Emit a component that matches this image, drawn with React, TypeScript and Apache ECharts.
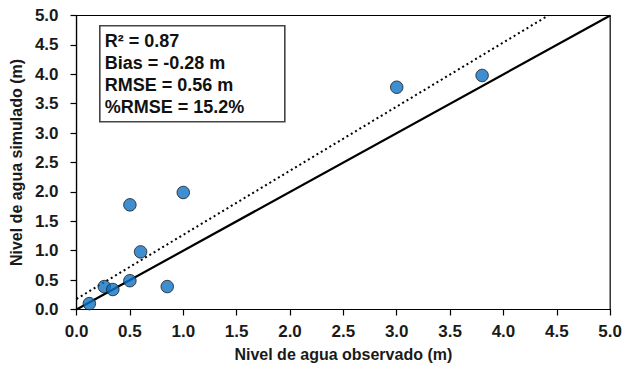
import React, { useEffect, useRef } from "react";
import * as echarts from "echarts";

const observed = [0.12, 0.26, 0.34, 0.5, 0.5, 0.6, 0.85, 1.0, 3.0, 3.8];
const simulated = [0.1, 0.39, 0.34, 0.49, 1.78, 0.98, 0.39, 1.99, 3.78, 3.98];
const oneToOneX = [0, 5];
const oneToOneY = [0, 5];
const fitX = [0, 4.42];
const fitY = [0.18, 5.0];
const statsLines = ["R² = 0.87", "Bias = -0.28 m", "RMSE = 0.56 m", "%RMSE = 15.2%"];

export default function App() {
  const ref = useRef<HTMLDivElement>(null);
  useEffect(() => {
    if (!ref.current) return;
    const chart = echarts.init(ref.current, undefined, { renderer: "svg" });
    const font = "Liberation Sans, Arial, sans-serif";
    const labelCommon = {
      color: "#1a1a1a",
      fontFamily: font,
      fontWeight: "bold",
      fontSize: 17,
      formatter: (v: number) => v.toFixed(1),
    };
    const axisCommon = {
      min: 0,
      max: 5,
      interval: 0.5,
      splitLine: { show: false },
      axisLine: { show: true, onZero: false, lineStyle: { color: "#000", width: 1.2 } },
      axisTick: { show: true, inside: false, length: 6, lineStyle: { color: "#000", width: 1.2 } },
      nameLocation: "middle",
      nameTextStyle: { color: "#1a1a1a", fontFamily: font, fontWeight: "bold", fontSize: 16 },
    };
    chart.setOption({
      animation: false,
      backgroundColor: "#fff",
      grid: {
        left: 76.5,
        right: 14,
        top: 15.5,
        bottom: 61.5,
        show: true,
        borderColor: "#000",
        borderWidth: 1.2,
        backgroundColor: "transparent",
      },
      xAxis: {
        ...axisCommon,
        type: "value",
        name: "Nivel de agua observado (m)",
        nameGap: 37,
        axisLabel: { ...labelCommon, margin: 13 },
      },
      yAxis: {
        ...axisCommon,
        type: "value",
        name: "Nivel de agua simulado (m)",
        nameGap: 51,
        axisLabel: { ...labelCommon, margin: 18 },
      },
      series: [
        {
          type: "line",
          data: oneToOneX.map((x, i) => [x, oneToOneY[i]]),
          showSymbol: false,
          symbol: "none",
          lineStyle: { color: "#000", width: 2.2 },
          z: 2,
        },
        {
          type: "line",
          data: fitX.map((x, i) => [x, fitY[i]]),
          showSymbol: false,
          symbol: "none",
          lineStyle: { color: "#000", width: 2, type: [2, 3] },
          z: 2,
        },
        {
          type: "scatter",
          data: observed.map((x, i) => [x, simulated[i]]),
          symbol: "circle",
          symbolSize: 12.5,
          itemStyle: { color: "#0E72C4", borderColor: "#1a1a1a", borderWidth: 1 },
          z: 3,
        },
      ],
      graphic: [
        {
          type: "group",
          left: 99,
          top: 25,
          children: [
            {
              type: "rect",
              shape: { x: 0, y: 0, width: 185, height: 96 },
              style: { fill: "#fff", stroke: "#444", lineWidth: 1.6 },
            },
            ...statsLines.map((t, i) => ({
              type: "text",
              x: 5,
              y: 6.5 + i * 22,
              style: {
                text: t,
                fill: "#111",
                font: `bold 18px ${font}`,
                textVerticalAlign: "top",
              },
            })),
          ],
        },
      ],
    });
    return () => chart.dispose();
  }, []);
  return <div ref={ref} style={{ width: 625, height: 371, position: "absolute", left: 0, top: 0 }} />;
}
